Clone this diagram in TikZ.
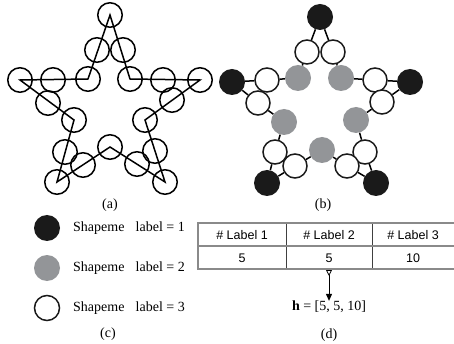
\documentclass[tikz,border=0pt]{standalone}
\usepackage{fontspec}
\setmainfont{Liberation Serif}
\setsansfont{Liberation Sans}
\usetikzlibrary{arrows.meta}
\definecolor{shblack}{HTML}{1A1A1A}
\definecolor{shgray}{HTML}{939598}
\definecolor{tabgray}{HTML}{8A8A8A}
\tikzset{
  hollow/.style={circle,draw=black,line width=1.5pt,minimum size=24.5pt,inner sep=0pt},
  wnode/.style={circle,draw=shblack,fill=white,line width=1.5pt,minimum size=24pt,inner sep=0pt},
  bnode/.style={circle,fill=shblack,minimum size=26pt,inner sep=0pt},
  gnode/.style={circle,fill=shgray,minimum size=26pt,inner sep=0pt},
  starline/.style={line width=1.5pt,line join=miter},
  edge/.style={line width=1.5pt},
  captext/.style={font=\fontsize{14}{16}\selectfont,inner sep=0pt},
  legtext/.style={font=\fontsize{14}{16}\selectfont,anchor=west,inner sep=0pt},
  celltext/.style={font=\sffamily\fontsize{12.5}{14}\selectfont,inner sep=0pt},
  tabouter/.style={draw=tabgray,line width=1.4pt},
  tabinner/.style={draw=black!75,line width=1pt},
}
\begin{document}
\begin{tikzpicture}[x=1pt,y=-1pt]
\useasboundingbox (0,0) rectangle (454,344);
% ---------- (a) ----------
\foreach \n/\x/\y in {1/110/15,2/123/50,3/130/79,4/163/80,5/200/80,6/172/100,7/145/120,8/155/151,9/165/182,10/137/164,11/110/147,12/83/165,13/57/182,14/65/152,15/74/120,16/48/103,17/20/80,18/53/80,19/88/79,20/97/50}
  \node[hollow] (a\n) at (\x,\y) {};
\draw[starline] (a1.center) -- (a3.center) -- (a5.center) -- (a7.center) -- (a9.center) -- (a11.center) -- (a13.center) -- (a15.center) -- (a17.center) -- (a19.center) -- cycle;
\node[captext] (capa) at (110,205) {(a)};
% ---------- (b) ----------
\foreach \n/\x/\y/\s in {1/320/17/bnode,2/333/52/wnode,3/341/78/gnode,4/375/80/wnode,5/410/82/bnode,6/382/102/wnode,7/356/120/gnode,8/365/152/wnode,9/376/183/bnode,10/347/166/wnode,11/322/150/gnode,12/295/166/wnode,13/267/183/bnode,14/275/152/wnode,15/284/122/gnode,16/258/103/wnode,17/232/82/bnode,18/267/80/wnode,19/298/78/gnode,20/307/52/wnode}
  \node[\s] (b\n) at (\x,\y) {};
\foreach \i/\j in {1/2,2/3,3/4,4/5,5/6,6/7,7/8,8/9,9/10,10/11,11/12,12/13,13/14,14/15,15/16,16/17,17/18,18/19,19/20,20/1}
  \draw[edge] (b\i) -- (b\j);
\node[captext] (capb) at (323,205) {(b)};
% ---------- (c) ----------
\node[bnode] (l1) at (47,228) {};
\node[gnode] (l2) at (47,268) {};
\node[wnode,minimum size=25pt] (l3) at (47,308) {};
\node[legtext] (t1) at (73,228) {Shapeme\hspace{0.8em}label = 1};
\node[legtext] (t2) at (73,268) {Shapeme\hspace{0.8em}label = 2};
\node[legtext] (t3) at (73,308) {Shapeme\hspace{0.8em}label = 3};
\node[captext] (capc) at (108,334) {(c)};
% ---------- (d) ----------
\draw[tabinner] (286,223) -- (286,269);
\draw[tabinner] (372,223) -- (372,269);
\draw[tabouter] (198,246) -- (456,246);
\draw[tabouter] (456,223) -- (198,223) -- (198,269) -- (456,269);
\node[celltext] (h1) at (242,235) {\# Label 1};
\node[celltext] (h2) at (329,235) {\# Label 2};
\node[celltext] (h3) at (413,235) {\# Label 3};
\node[celltext] (v1) at (242,258) {5};
\node[celltext] (v2) at (329,258) {5};
\node[celltext] (v3) at (413,258) {10};
\coordinate (tbot) at (329,270);
\node[captext] (hvec) at (329,307) {\textbf{h} = [5, 5, 10]};
\draw[line width=1pt,{Triangle[open,reversed,length=6pt,width=6pt,line width=0.8pt]}-{Triangle[length=7pt,width=6pt]}] (tbot) -- (hvec.north);
\node[captext] (capd) at (329,335) {(d)};
\end{tikzpicture}
\end{document}
